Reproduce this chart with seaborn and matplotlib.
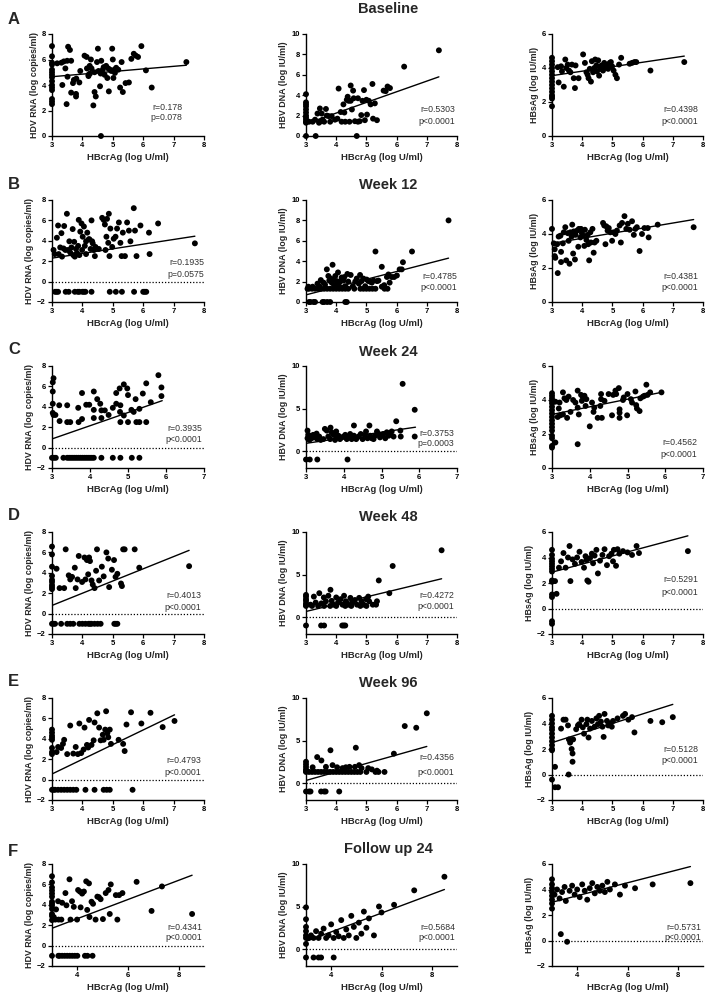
import matplotlib
matplotlib.use('Agg')
import matplotlib.pyplot as plt
import numpy as np
import pandas as pd
import seaborn as sns

sns.set_style('ticks')
plt.rcParams['font.family'] = ['Liberation Sans', 'DejaVu Sans']

row_letters = ['A', 'B', 'C', 'D', 'E', 'F']
row_titles = ['Baseline', 'Week 12', 'Week 24', 'Week 48', 'Week 96', 'Follow up 24']
col_ylabels = ['HDV RNA (log copies/ml)', 'HBV DNA (log IU/ml)', 'HBsAg (log IU/ml)']
x_label = 'HBcrAg (log U/ml)'

# ---------------- data: (HBcrAg, marker) ----------------
A1 = [(3.0,7.05),(3.0,6.25),(3.0,5.75),(3.0,5.6),(3.0,5.2),(3.0,5.0),(3.0,4.8),(3.0,4.6),(3.0,4.3),(3.0,4.0),(3.0,3.8),(3.0,3.6),(3.0,2.9),(3.0,2.7),(3.0,2.5),
      (3.17,5.7),(3.31,5.75),(3.39,5.85),(3.44,5.3),(3.5,5.9),(3.34,4.0),(3.48,2.5),(3.53,7.0),(3.59,6.75),(3.63,5.9),(3.51,4.65),(3.63,3.4),(3.69,4.15),(3.72,4.4),(3.79,3.3),(3.79,3.1),(3.93,5.1),(4.07,6.3),(4.14,6.2),(4.2,4.7),(4.24,5.5),(4.28,6.0),(4.36,2.4),(4.4,3.45),(4.44,3.1),(4.48,5.8),(4.51,6.85),(4.53,5.1),(4.58,3.9),(4.62,5.9),(4.67,5.2),(4.73,4.8),(4.78,5.5),(4.82,4.55),(4.87,3.5),(4.91,5.2),(4.98,6.85),(5.0,6.0),(5.02,4.55),(5.07,4.95),(5.11,5.35),(5.18,5.2),(5.24,3.8),(5.29,5.8),(5.33,3.45),(5.42,4.15),(5.53,4.2),(5.61,6.05),(5.69,6.45),(5.76,6.3),(5.83,6.2),(5.94,7.05),(6.09,5.15),(6.28,3.8),(4.61,0.0),(7.42,5.8),
      (4.3,5.3),(4.4,5.0),(4.6,4.9),(4.7,5.4),(4.85,5.3),(4.95,5.1),(5.05,5.2),(4.2,4.8),(4.15,5.3),(4.25,4.9),(3.9,4.2),(3.8,4.5)]
A2 = [(3.0,4.1),(3.0,3.3),(3.0,3.1),(3.0,2.9),(3.0,2.6),(3.0,2.3),(3.0,2.0),(3.0,1.8),(3.0,1.6),(3.0,1.4),(3.0,1.3),(3.0,0.0),
      (3.1,1.4),(3.22,1.4),(3.3,1.6),(3.32,0.0),(3.38,2.2),(3.43,1.3),(3.46,2.7),(3.5,1.45),(3.52,2.2),(3.55,1.6),(3.6,1.4),(3.66,2.65),(3.69,2.0),(3.75,1.95),(3.8,1.4),(3.85,1.95),(3.96,1.6),(4.04,1.7),(4.08,4.65),(4.15,2.35),(4.18,1.4),(4.24,3.1),(4.27,2.3),(4.3,1.4),(4.35,3.55),(4.38,3.85),(4.41,3.45),(4.44,1.4),(4.48,4.95),(4.48,3.45),(4.52,2.6),(4.56,4.45),(4.58,3.7),(4.62,1.45),(4.68,0.0),(4.72,1.4),(4.72,3.7),(4.78,1.45),(4.83,2.05),(4.87,3.45),(4.92,4.5),(4.95,1.55),(5.0,3.55),(5.02,2.1),(5.08,3.45),(5.14,3.1),(5.2,5.1),(5.22,1.7),(5.28,3.2),(5.35,1.55),(5.57,4.45),(5.64,4.4),(5.7,4.85),(5.78,4.7),(6.25,6.8),(7.4,8.4)]
A3 = [(3.0,4.6),(3.0,4.4),(3.0,4.2),(3.0,4.0),(3.0,3.8),(3.0,3.6),(3.0,3.4),(3.0,3.2),(3.0,3.0),(3.0,2.8),(3.0,2.6),(3.0,2.4),(3.0,2.3),(3.0,2.2),(3.0,1.75),
      (3.19,4.05),(3.22,3.15),(3.3,4.1),(3.33,3.8),(3.39,2.9),(3.44,4.5),(3.47,4.0),(3.52,4.2),(3.56,3.85),(3.61,3.75),(3.66,4.2),(3.72,3.4),(3.76,2.82),(3.78,4.15),(3.88,3.4),(4.03,4.8),(4.09,4.3),(4.14,3.75),(4.18,3.6),(4.21,3.4),(4.25,3.95),(4.29,3.2),(4.32,4.4),(4.36,3.75),(4.4,4.0),(4.43,4.5),(4.47,4.15),(4.49,3.8),(4.53,4.45),(4.56,3.55),(4.6,3.95),(4.64,4.15),(4.69,3.85),(4.73,4.3),(4.78,4.05),(4.82,4.15),(4.86,3.95),(4.91,4.3),(4.95,4.35),(4.99,4.1),(5.04,3.85),(5.1,3.6),(5.15,3.4),(5.22,4.2),(5.29,4.6),(5.57,4.25),(5.65,4.3),(5.73,4.35),(5.79,4.35),(6.26,3.85),(7.38,4.35)]

B1 = [(3.05,3.1),(3.09,2.7),(3.16,4.3),(3.2,5.5),(3.22,2.7),(3.27,3.35),(3.31,4.75),(3.33,2.45),(3.38,3.25),(3.4,5.45),(3.44,3.1),(3.49,6.65),(3.53,3.1),(3.57,3.95),(3.6,2.85),(3.64,3.35),(3.68,5.15),(3.7,2.6),(3.73,3.9),(3.75,2.45),(3.79,3.2),(3.82,2.8),(3.86,3.5),(3.88,6.05),(3.9,2.6),(3.93,4.9),(3.97,5.7),(3.99,3.1),(4.01,4.4),(4.05,5.4),(4.08,3.5),(4.12,3.95),(4.12,2.7),(4.16,4.8),(4.21,4.15),(4.23,4.15),(4.27,3.2),(4.3,6.0),(4.32,3.95),(4.34,3.75),(4.38,3.1),(4.41,2.5),(4.43,3.4),(4.54,3.2),(4.65,6.25),(4.7,6.05),(4.74,5.6),(4.76,3.1),(4.79,4.4),(4.81,6.15),(4.85,3.8),(4.87,6.65),(4.89,2.5),(4.92,5.2),(4.98,3.4),(5.03,4.2),(5.09,4.4),(5.14,5.2),(5.2,5.8),(5.25,3.8),(5.29,2.5),(5.33,4.8),(5.4,2.5),(5.47,5.8),(5.53,5.0),(5.58,3.95),(5.69,7.2),(5.73,5.0),(5.78,2.5),(5.91,5.5),(6.19,4.8),(6.21,2.7),(6.49,5.7),(7.7,3.75),
      (3.1,-1),(3.15,-1),(3.2,-1),(3.45,-1),(3.55,-1),(3.75,-1),(3.85,-1),(3.9,-1),(4.0,-1),(4.05,-1),(4.1,-1),(4.3,-1),(4.9,-1),(5.1,-1),(5.3,-1),(5.7,-1),(6.0,-1),(6.05,-1),(6.1,-1)]
B2 = [(3.05,1.3),(3.1,1.3),(3.2,1.3),(3.3,1.3),(3.4,1.3),(3.5,1.3),(3.6,1.3),(3.7,1.3),(3.8,1.3),(3.9,1.3),(4.0,1.3),(4.1,1.3),(4.2,1.3),(4.3,1.3),(4.4,1.3),(4.6,1.3),(4.8,1.3),(4.9,1.3),(5.0,1.3),(5.1,1.3),(5.2,1.3),(5.3,1.3),(5.6,1.3),(5.7,1.3),
      (3.1,0),(3.15,0),(3.25,0),(3.3,0),(3.55,0),(3.6,0),(3.7,0),(3.8,0),(4.3,0),(4.35,0),
      (3.08,1.5),(3.22,1.5),(3.38,1.8),(3.44,1.55),(3.49,2.15),(3.58,1.9),(3.63,1.7),(3.69,3.2),(3.74,2.55),(3.77,2.1),(3.82,2.3),(3.85,1.9),(3.88,3.65),(3.91,2.15),(3.93,1.65),(3.97,2.55),(4.02,2.05),(4.06,2.9),(4.08,1.7),(4.13,2.0),(4.18,2.4),(4.24,2.1),(4.27,2.45),(4.3,1.55),(4.37,2.75),(4.4,2.0),(4.48,2.65),(4.55,1.55),(4.63,2.0),(4.68,2.3),(4.75,1.8),(4.79,2.65),(4.84,2.05),(4.9,2.3),(4.96,1.55),(5.01,2.2),(5.07,2.05),(5.12,2.0),(5.18,1.9),(5.23,2.1),(5.3,4.95),(5.35,2.05),(5.4,2.1),(5.51,3.45),(5.51,1.5),(5.59,1.65),(5.68,2.45),(5.73,2.7),(5.77,1.9),(5.84,2.45),(5.92,2.45),(6.01,2.6),(6.1,3.2),(6.17,3.2),(6.21,3.9),(6.51,4.95),(7.72,8.0)]
B3 = [(3.0,4.3),(3.06,3.45),(3.09,3.1),(3.09,2.7),(3.11,2.6),(3.19,1.7),(3.17,3.4),(3.22,3.85),(3.28,3.9),(3.3,2.95),(3.3,2.35),(3.36,3.45),(3.39,4.1),(3.44,4.4),(3.47,2.45),(3.52,4.05),(3.55,3.6),(3.58,2.25),(3.61,4.1),(3.65,3.85),(3.67,4.55),(3.7,2.85),(3.72,4.15),(3.76,2.5),(3.78,3.95),(3.83,4.2),(3.87,3.25),(3.89,4.3),(3.94,3.8),(3.96,4.3),(3.99,4.05),(4.03,3.9),(4.07,3.3),(4.09,4.25),(4.14,3.65),(4.18,3.95),(4.2,3.4),(4.23,2.45),(4.27,4.1),(4.29,3.5),(4.34,4.3),(4.38,2.9),(4.41,3.5),(4.47,3.6),(4.69,4.65),(4.73,4.5),(4.77,3.4),(4.8,4.45),(4.84,4.2),(4.88,4.35),(4.93,4.1),(4.99,3.6),(5.04,4.1),(5.1,4.0),(5.15,4.2),(5.24,4.5),(5.28,3.5),(5.32,4.65),(5.4,5.05),(5.46,4.3),(5.51,4.6),(5.57,4.25),(5.65,4.75),(5.71,3.95),(5.76,4.3),(5.81,4.4),(5.9,3.0),(5.98,4.0),(6.06,4.35),(6.17,4.35),(6.2,3.8),(6.5,4.55),(7.69,4.4)]

C1 = [(3.04,6.8),(3.02,6.4),(3.02,5.5),(3.02,4.3),(3.02,3.4),(3.04,3.2),(3.09,3.2),(3.19,4.15),(3.2,2.6),(3.4,4.15),(3.4,2.5),(3.48,2.5),(3.69,3.9),(3.7,2.5),(3.79,5.35),(3.79,2.8),(3.9,4.2),(3.98,4.2),(4.1,5.5),(4.1,3.7),(4.1,2.9),(4.19,4.75),(4.27,4.3),(4.3,3.65),(4.3,2.9),(4.39,3.65),(4.49,3.2),(4.6,3.9),(4.69,5.35),(4.69,4.3),(4.78,5.8),(4.79,3.5),(4.8,4.15),(4.8,2.5),(4.89,6.2),(4.89,3.15),(4.98,5.8),(5.0,5.15),(5.0,2.5),(5.09,3.7),(5.15,3.5),(5.2,4.75),(5.22,2.5),(5.3,2.5),(5.3,3.8),(5.39,5.3),(5.48,6.3),(5.48,2.5),(5.6,4.45),(5.8,7.1),(5.88,5.05),(5.88,5.9),
      (3.0,-1),(3.05,-1),(3.1,-1),(3.3,-1),(3.4,-1),(3.45,-1),(3.5,-1),(3.55,-1),(3.6,-1),(3.65,-1),(3.7,-1),(3.75,-1),(3.8,-1),(3.85,-1),(3.9,-1),(3.95,-1),(4.0,-1),(4.05,-1),(4.1,-1),(4.3,-1),(4.6,-1),(4.8,-1),(5.1,-1),(5.3,-1)]
C2 = [(3.04,2.4),(3.06,1.9),(3.04,1.5),(3.09,1.3),(3.1,1.8),(3.15,1.5),(3.19,1.9),(3.24,1.6),(3.28,2.05),(3.3,1.4),(3.35,1.7),(3.39,1.3),(3.46,1.4),(3.5,2.6),(3.55,2.4),(3.59,1.7),(3.64,1.4),(3.65,2.75),(3.68,2.2),(3.73,1.9),(3.77,1.3),(3.8,2.3),(3.81,1.6),(3.86,1.8),(3.9,1.4),(3.95,1.6),(4.0,1.7),(4.04,1.9),(4.08,1.4),(4.12,1.6),(4.17,2.0),(4.21,1.4),(4.27,3.0),(4.27,1.8),(4.33,1.4),(4.39,1.7),(4.45,2.0),(4.5,1.4),(4.56,1.9),(4.59,2.3),(4.63,1.5),(4.68,3.0),(4.7,1.8),(4.74,1.5),(4.79,1.4),(4.83,1.8),(4.88,2.3),(4.92,2.0),(4.96,1.6),(5.0,1.8),(5.05,2.0),(5.1,1.5),(5.14,2.2),(5.19,1.8),(5.23,2.0),(5.27,2.3),(5.32,1.7),(5.39,3.5),(5.5,2.4),(5.51,1.7),(5.56,7.9),(5.88,4.85),(5.88,1.7),
      (3.0,-1),(3.1,-1),(3.3,-1),(4.1,-1)]
C3 = [(3.0,4.4),(3.0,4.25),(3.0,4.1),(3.0,3.95),(3.0,3.8),(3.0,3.6),(3.0,3.4),(3.0,3.2),(3.0,3.0),(3.0,2.8),(3.0,2.6),(3.0,2.4),(3.0,2.2),(3.0,1.9),(3.0,1.75),(3.0,1.3),(3.0,1.2),
      (3.09,3.9),(3.09,1.5),(3.15,3.0),(3.18,3.5),(3.2,3.85),(3.22,3.1),(3.29,4.45),(3.29,3.15),(3.33,4.1),(3.38,4.0),(3.4,2.95),(3.44,4.2),(3.49,3.3),(3.56,4.0),(3.62,3.85),(3.68,4.55),(3.68,3.55),(3.68,1.4),(3.71,3.15),(3.77,4.3),(3.79,3.95),(3.82,4.15),(3.86,4.25),(3.89,3.65),(3.91,4.05),(4.0,2.45),(4.06,3.85),(4.1,3.3),(4.12,3.55),(4.21,2.95),(4.28,3.65),(4.3,4.35),(4.3,4.05),(4.32,2.95),(4.39,3.95),(4.5,4.35),(4.59,3.1),(4.62,4.3),(4.68,4.55),(4.7,4.35),(4.77,4.7),(4.79,3.45),(4.79,3.25),(4.79,2.95),(4.88,4.0),(4.9,4.15),(4.99,3.1),(5.0,4.35),(5.09,4.05),(5.12,3.85),(5.21,4.5),(5.23,3.7),(5.25,3.5),(5.32,3.35),(5.34,4.1),(5.41,4.2),(5.45,4.25),(5.5,4.9),(5.53,4.3),(5.6,4.45),(5.9,4.45)]

D1 = [(3.0,6.57),(3.0,5.8),(3.0,4.6),(3.0,3.7),(3.0,3.3),(3.0,3.1),(3.0,2.8),(3.0,2.6),(3.0,2.4),
      (3.15,4.4),(3.25,2.5),(3.4,2.5),(3.45,6.3),(3.55,3.75),(3.6,3.35),(3.66,3.6),(3.75,4.5),(3.78,2.5),(3.84,3.35),(3.88,5.65),(3.99,3.1),(4.07,5.5),(4.1,3.35),(4.15,5.25),(4.19,3.85),(4.22,5.5),(4.25,5.15),(4.3,3.25),(4.34,2.85),(4.4,2.5),(4.45,4.2),(4.48,6.3),(4.55,3.25),(4.64,4.6),(4.7,3.65),(4.79,6.0),(4.85,5.4),(4.88,2.6),(4.97,4.3),(5.04,5.25),(5.09,3.6),(5.15,3.9),(5.27,2.95),(5.3,2.7),(5.34,6.3),(5.39,6.3),(5.72,6.3),(5.87,4.5),(7.51,4.65),
      (3.0,-1),(3.05,-1),(3.1,-1),(3.3,-1),(3.5,-1),(3.6,-1),(3.7,-1),(3.9,-1),(4.0,-1),(4.1,-1),(4.2,-1),(4.25,-1),(4.3,-1),(4.4,-1),(4.5,-1),(4.6,-1),(5.05,-1),(5.1,-1),(5.15,-1)]
D2 = [(3.0,2.6),(3.0,2.4),(3.0,2.1),(3.0,1.9),(3.0,1.6),(3.0,1.4),(3.0,1.3),
      (3.15,1.45),(3.26,2.4),(3.32,1.7),(3.44,2.8),(3.51,1.6),(3.59,2.3),(3.66,1.85),(3.74,2.5),(3.81,3.2),(3.85,1.9),(3.91,1.45),(4.0,2.3),(4.06,1.7),(4.15,2.1),(4.21,1.45),(4.26,2.5),(4.32,1.85),(4.4,1.45),(4.47,2.25),(4.54,1.7),(4.62,2.0),(4.69,1.45),(4.76,2.25),(4.84,1.85),(4.91,1.45),(4.99,2.1),(5.06,2.4),(5.09,1.85),(5.21,1.45),(5.32,1.45),(5.35,1.85),(5.41,4.3),(5.76,2.8),(5.87,6.0),(7.49,7.85),
      (3.2,1.3),(3.4,1.3),(3.6,1.3),(3.8,1.3),(4.0,1.3),(4.3,1.3),(4.5,1.3),(4.8,1.3),(5.0,1.3),
      (3.0,-1),(3.5,-1),(3.6,-1),(4.2,-1),(4.25,-1),(4.3,-1)]
D3 = [(3.0,4.6),(3.0,4.2),(3.0,3.9),(3.0,3.7),(3.0,3.5),(3.0,3.3),(3.0,3.1),(3.0,2.9),(3.0,2.2),(3.0,2.1),(3.0,1.1),(3.0,0.9),(3.0,-1.0),(3.0,-1.2),
      (3.1,2.15),(3.15,1.15),(3.23,3.2),(3.3,3.7),(3.38,4.35),(3.45,3.2),(3.53,4.0),(3.58,4.9),(3.61,2.15),(3.68,3.85),(3.76,3.5),(3.83,4.0),(3.91,4.45),(3.98,3.65),(4.06,3.2),(4.11,4.1),(4.14,3.8),(4.17,2.2),(4.21,2.1),(4.26,3.95),(4.32,4.3),(4.36,3.55),(4.41,4.15),(4.47,4.6),(4.52,2.75),(4.59,3.75),(4.67,4.2),(4.74,4.65),(4.82,3.4),(4.89,4.1),(4.97,4.3),(5.02,3.7),(5.05,4.6),(5.12,3.35),(5.17,4.65),(5.23,4.3),(5.35,4.5),(5.5,4.4),(5.65,4.2),(5.8,4.9),(5.88,4.35),(7.5,4.5)]

E1 = [(3.0,4.9),(3.0,4.6),(3.0,4.3),(3.0,4.1),(3.0,3.9),(3.0,3.1),(3.0,2.7),(3.0,2.5),
      (3.15,2.7),(3.2,3.2),(3.3,3.1),(3.36,3.5),(3.4,3.9),(3.5,2.5),(3.6,5.3),(3.7,2.55),(3.78,3.2),(3.85,2.5),(3.9,5.5),(3.96,2.6),(4.04,2.95),(4.07,5.1),(4.15,3.4),(4.19,3.15),(4.22,5.85),(4.3,3.4),(4.37,3.85),(4.4,5.6),(4.49,6.5),(4.55,5.1),(4.6,3.85),(4.67,4.4),(4.7,3.9),(4.75,4.9),(4.78,6.7),(4.82,4.55),(4.85,4.15),(4.9,4.9),(4.94,3.5),(5.19,3.9),(5.34,3.5),(5.39,2.8),(5.45,5.4),(5.6,6.6),(5.94,5.5),(6.24,6.55),(6.64,5.15),(7.03,5.75),
      (3.0,-1),(3.05,-1),(3.1,-1),(3.2,-1),(3.3,-1),(3.4,-1),(3.5,-1),(3.6,-1),(3.7,-1),(3.8,-1),(4.1,-1),(4.4,-1),(4.7,-1),(4.8,-1),(4.9,-1),(5.65,-1)]
E2 = [(3.0,2.5),(3.0,2.2),(3.0,1.9),(3.0,1.6),(3.0,1.4),(3.0,1.3),
      (3.1,1.3),(3.2,1.3),(3.3,1.3),(3.4,1.3),(3.5,1.3),(3.6,1.3),(3.7,1.3),(3.8,1.3),(3.9,1.3),(4.0,1.3),(4.1,1.3),(4.2,1.3),(4.3,1.3),(4.4,1.3),(4.5,1.3),(4.6,1.3),(4.7,1.3),(4.8,1.3),(5.0,1.3),(5.3,1.3),(5.4,1.3),(5.6,1.3),
      (3.22,1.85),(3.37,3.05),(3.51,2.65),(3.66,1.9),(3.81,3.85),(3.88,2.1),(4.03,1.85),(4.21,1.75),(4.32,1.85),(4.44,1.9),(4.62,1.9),(4.65,4.15),(4.76,2.1),(4.84,1.75),(5.06,1.75),(5.18,1.6),(5.35,1.45),(5.91,3.45),(6.27,6.7),(6.65,6.5),(7.0,8.2),
      (3.0,-1),(3.1,-1),(3.15,-1),(3.5,-1),(3.6,-1),(3.65,-1),(4.1,-1)]
E3 = [(3.0,4.6),(3.0,4.3),(3.0,4.0),(3.0,3.7),(3.0,3.5),(3.0,3.2),(3.0,2.9),(3.0,2.6),(3.0,2.3),(3.0,2.0),(3.0,1.9),(3.0,-0.4),
      (3.1,0.6),(3.1,-1.0),(3.2,-1.0),(3.3,3.6),(3.38,4.3),(3.45,4.3),(3.53,3.85),(3.56,2.75),(3.6,2.5),(3.65,2.0),(3.68,1.65),(3.68,1.0),(3.55,0.0),(3.7,2.75),(3.8,3.55),(3.86,3.85),(3.9,3.95),(3.98,4.3),(4.02,3.7),(4.06,3.2),(4.14,3.95),(4.17,4.3),(4.21,2.9),(4.26,3.6),(4.32,4.2),(4.41,3.75),(4.47,4.4),(4.52,3.95),(4.56,4.6),(4.62,4.15),(4.67,3.75),(4.71,2.95),(4.74,4.75),(4.82,4.2),(4.86,3.85),(4.92,4.0),(4.98,3.75),(5.02,4.2),(5.17,4.4),(5.35,4.6),(5.42,4.75),(5.53,4.3),(5.65,4.5),(5.73,3.3),(6.26,4.2),(6.65,4.1),(7.0,4.5)]

F1 = [(3.0,6.8),(3.0,6.2),(3.0,5.7),(3.0,5.4),(3.0,5.1),(3.0,4.8),(3.0,4.3),(3.0,4.1),(3.0,3.9),(3.0,3.6),(3.0,3.1),(3.0,2.9),(3.0,2.5),
      (3.07,2.8),(3.13,2.55),(3.16,3.55),(3.26,2.55),(3.24,4.35),(3.37,2.55),(3.4,4.2),(3.53,5.15),(3.57,3.95),(3.69,6.5),(3.73,2.55),(3.79,4.35),(3.86,3.8),(3.99,2.55),(4.03,5.45),(4.1,5.3),(4.13,3.75),(4.19,5.1),(4.26,5.3),(4.35,6.3),(4.39,3.5),(4.46,6.1),(4.48,2.8),(4.56,4.3),(4.62,4.1),(4.72,2.55),(4.79,4.8),(4.85,4.75),(4.92,4.55),(5.01,2.6),(5.12,5.15),(5.23,5.45),(5.28,3.1),(5.32,6.0),(5.52,4.95),(5.58,2.55),(5.65,4.95),(5.78,5.15),(6.34,6.25),(6.93,3.4),(7.34,5.8),(8.53,3.1),
      (3.0,-1),(3.25,-1),(3.3,-1),(3.4,-1),(3.5,-1),(3.6,-1),(3.7,-1),(3.8,-1),(3.9,-1),(4.0,-1),(4.3,-1),(4.4,-1),(4.6,-1)]
F2 = [(3.0,4.9),(3.0,3.5),(3.0,2.6),(3.0,2.1),(3.0,1.6),(3.0,1.3),(3.0,0.6),(3.0,-1.0),
      (3.1,1.3),(3.2,1.6),(3.3,1.3),(3.4,2.1),(3.5,1.3),(3.6,1.8),(3.7,2.4),(3.8,1.3),(3.9,1.6),(4.0,2.9),(4.1,1.3),(4.2,2.0),(4.3,1.5),(4.4,3.4),(4.5,1.3),(4.6,2.3),(4.7,1.6),(4.8,3.9),(4.9,2.6),(5.0,1.3),(5.1,3.1),(5.2,1.8),(5.3,4.4),(5.4,2.5),(5.5,3.6),(5.7,1.6),(5.9,5.0),(6.0,4.3),(6.5,5.2),(7.3,6.9),(8.5,8.5),
      (3.3,-1.0),(3.5,-1.0),(3.6,-1.0),(4.1,-1.0)]
F3 = [(3.0,4.8),(3.0,4.4),(3.0,4.1),(3.0,3.8),(3.0,3.5),(3.0,3.2),(3.0,2.9),(3.0,2.5),
      (3.1,3.6),(3.2,4.0),(3.3,3.3),(3.35,0.5),(3.4,3.8),(3.5,4.2),(3.55,3.1),(3.6,-0.1),(3.7,3.9),(3.8,4.3),(3.9,3.6),(4.0,4.0),(4.1,3.4),(4.2,4.4),(4.3,3.9),(4.4,3.2),(4.5,4.1),(4.6,4.5),(4.7,3.7),(4.8,4.2),(4.9,3.9),(5.0,4.3),(5.1,3.8),(5.2,4.6),(5.3,4.0),(5.5,4.4),(5.7,3.6),(5.9,4.3),(6.3,4.1),(7.0,4.4),(8.5,4.5)]

# fitted regression lines: (x_start, x_end), (y_start, y_end)
LINES = {
    'A1': ((3.0, 7.42), (4.65, 5.55)), 'A2': ((3.0, 7.4), (1.2, 5.8)), 'A3': ((3.0, 7.38), (3.55, 4.7)),
    'B1': ((3.0, 7.7), (2.3, 4.45)), 'B2': ((3.0, 7.72), (0.7, 4.3)), 'B3': ((3.0, 7.69), (3.45, 4.85)),
    'C1': ((3.0, 5.9), (0.85, 4.6)), 'C2': ((3.0, 5.9), (0.9, 2.8)), 'C3': ((3.0, 5.9), (3.15, 4.45)),
    'D1': ((3.0, 7.51), (0.8, 6.2)), 'D2': ((3.0, 7.49), (0.65, 4.5)), 'D3': ((3.0, 7.5), (2.85, 5.7)),
    'E1': ((3.0, 7.03), (0.55, 6.35)), 'E2': ((3.0, 7.0), (0.3, 4.3)), 'E3': ((3.0, 7.0), (2.5, 5.5)),
    'F1': ((3.0, 8.53), (1.7, 6.9)), 'F2': ((3.0, 8.5), (0.9, 7.0)), 'F3': ((3.0, 8.5), (3.0, 5.8)),
}
STATS = {
    'A1': ('r=0.178', 'p=0.078'), 'A2': ('r=0.5303', 'p<0.0001'), 'A3': ('r=0.4398', 'p<0.0001'),
    'B1': ('r=0.1935', 'p=0.0575'), 'B2': ('r=0.4785', 'p<0.0001'), 'B3': ('r=0.4381', 'p<0.0001'),
    'C1': ('r=0.3935', 'p<0.0001'), 'C2': ('r=0.3753', 'p=0.0003'), 'C3': ('r=0.4562', 'p<0.0001'),
    'D1': ('r=0.4013', 'p<0.0001'), 'D2': ('r=0.4272', 'p<0.0001'), 'D3': ('r=0.5291', 'p<0.0001'),
    'E1': ('r=0.4793', 'p<0.0001'), 'E2': ('r=0.4356', 'p<0.0001'), 'E3': ('r=0.5128', 'p<0.0001'),
    'F1': ('r=0.4341', 'p<0.0001'), 'F2': ('r=0.5684', 'p<0.0001'), 'F3': ('r=0.5731', 'p<0.0001'),
}
DATA = {'A1': A1, 'A2': A2, 'A3': A3, 'B1': B1, 'B2': B2, 'B3': B3, 'C1': C1, 'C2': C2, 'C3': C3,
        'D1': D1, 'D2': D2, 'D3': D3, 'E1': E1, 'E2': E2, 'E3': E3, 'F1': F1, 'F2': F2, 'F3': F3}

X_RANGE = [(3, 8), (3, 8), (3, 7), (3, 8), (3, 8), (3, 9)]
X_TICKS = [[3, 4, 5, 6, 7, 8], [3, 4, 5, 6, 7, 8], [3, 4, 5, 6, 7], [3, 4, 5, 6, 7, 8], [3, 4, 5, 6, 7, 8], [4, 6, 8]]
Y_RANGE = [[(0, 8), (0, 10), (0, 6)],
           [(-2, 8), (0, 10), (0, 6)],
           [(-2, 8), (-2, 10), (0, 6)],
           [(-2, 8), (-2, 10), (-2, 6)],
           [(-2, 8), (-2, 10), (-2, 6)],
           [(-2, 8), (-2, 10), (-2, 6)]]
Y_TICKS = {(0, 8): [0, 2, 4, 6, 8], (-2, 8): [-2, 0, 2, 4, 6, 8], (0, 10): [0, 2, 4, 6, 8, 10],
           (-2, 10): [0, 5, 10], (0, 6): [0, 2, 4, 6], (-2, 6): [-2, 0, 2, 4, 6]}

# ---------------- layout (pixels) ----------------
W, H = 709, 994
col_left = [52, 306, 552]
col_width = [152, 151, 151]
row_top0, row_step, ax_h = 34, 166, 102
title_y = [9, 185, 352, 517, 683, 849]
letter_y = [19, 185, 350, 516, 682, 852]
stat_pos = {
    'A1': (0.86, 0.28, 0.18), 'A2': (0.99, 0.26, 0.14), 'A3': (0.97, 0.26, 0.14),
    'B1': (1.0, 0.39, 0.27), 'B2': (1.0, 0.25, 0.14), 'B3': (0.97, 0.25, 0.14),
    'C1': (0.99, 0.39, 0.28), 'C2': (0.98, 0.34, 0.24), 'C3': (0.96, 0.25, 0.13),
    'D1': (0.98, 0.38, 0.26), 'D2': (0.98, 0.38, 0.27), 'D3': (0.97, 0.53, 0.41),
    'E1': (0.98, 0.39, 0.27), 'E2': (0.98, 0.42, 0.27), 'E3': (0.97, 0.50, 0.39),
    'F1': (0.99, 0.38, 0.28), 'F2': (0.99, 0.38, 0.28), 'F3': (0.99, 0.38, 0.28),
}

fig = plt.figure(figsize=(W / 100, H / 100), dpi=100)
fig.patch.set_facecolor('white')

for r in range(6):
    top = row_top0 + row_step * r
    for c in range(3):
        key = row_letters[r] + str(c + 1)
        ax = fig.add_axes([col_left[c] / W, 1 - (top + ax_h) / H, col_width[c] / W, ax_h / H])
        df = pd.DataFrame(DATA[key], columns=['x', 'y'])
        sns.scatterplot(data=df, x='x', y='y', ax=ax, color='black', s=18,
                        edgecolor='none', linewidth=0, clip_on=False, zorder=3)
        lx, ly = LINES[key]
        sns.lineplot(x=list(lx), y=list(ly), ax=ax, color='black', lw=1.0, zorder=4)
        xr = X_RANGE[r]
        yr = Y_RANGE[r][c]
        ax.set_xlim(*xr)
        ax.set_ylim(*yr)
        ax.set_xticks(X_TICKS[r])
        ax.set_yticks(Y_TICKS[yr])
        if yr[0] < 0:
            ax.axhline(0, color='black', lw=0.9, ls=(0, (1, 1.5)), zorder=2)
        for s in ['top', 'right']:
            ax.spines[s].set_visible(False)
        for s in ['left', 'bottom']:
            ax.spines[s].set_linewidth(1.0)
            ax.spines[s].set_color('black')
        ax.tick_params(axis='both', length=3, width=0.9, pad=1.5, labelsize=5.5, colors='black')
        for lab in ax.get_xticklabels() + ax.get_yticklabels():
            lab.set_fontweight('bold')
        ax.set_xlabel(x_label, fontsize=6.8, fontweight='bold', labelpad=3)
        ax.set_ylabel(col_ylabels[c], fontsize=6.4, fontweight='bold', labelpad=2)
        fx, fr, fp = stat_pos[key]
        rt, pt = STATS[key]
        ax.text(fx, fr, rt, transform=ax.transAxes, ha='right', va='center', fontsize=6.3, color='#333333')
        ax.text(fx, fp, pt, transform=ax.transAxes, ha='right', va='center', fontsize=6.3, color='#333333')
        ax.set_facecolor('none')
    fig.text(8 / W, 1 - letter_y[r] / H, row_letters[r], fontsize=12, fontweight='bold', ha='left', va='center')
    fig.text(388 / W, 1 - title_y[r] / H, row_titles[r], fontsize=10.5, fontweight='bold', ha='center', va='center')

fig.savefig('out.png', dpi=100, facecolor='white')
